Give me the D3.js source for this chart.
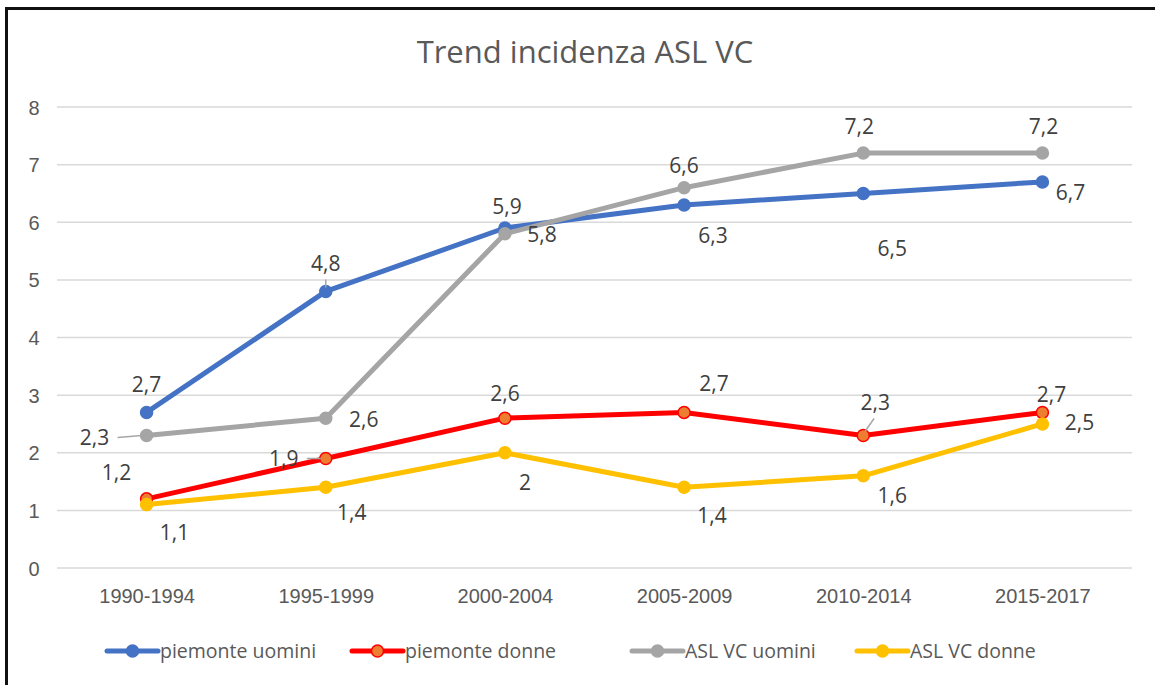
<!DOCTYPE html>
<html>
<head>
<meta charset="utf-8">
<script src="https://cdn.jsdelivr.net/npm/d3@7"></script>
<style>
  body { margin: 0; background: #fff; }
  svg { display: block; font-family: "Open Sans", "Noto Sans", sans-serif; }
  .axis text { fill: #595959; font-size: 20px; }
  .grid line { stroke: #d9d9d9; stroke-width: 1.5; }
  .lbl { fill: #404040; font-size: 21px; }
</style>
</head>
<body>
<div id="chart"></div>
<script>
// categories and values
const periods = ["1990-1994", "1995-1999", "2000-2004", "2005-2009", "2010-2014", "2015-2017"];
const piemonteUomini = [2.7, 4.8, 5.9, 6.3, 6.5, 6.7];
const piemonteDonne  = [1.2, 1.9, 2.6, 2.7, 2.3, 2.7];
const aslUomini      = [2.3, 2.6, 5.8, 6.6, 7.2, 7.2];
const aslDonne       = [1.1, 1.4, 2.0, 1.4, 1.6, 2.5];
const yTicks = [0, 1, 2, 3, 4, 5, 6, 7, 8];

// label placement: [dx, dy] from the point, optional leader
const placeUomini = [[0, -28], [0, -28, true], [2, -21], [29, 31], [29, 55], [28, 11]];
const placeDonne  = [[-30, -26], [-42, 0, true], [0, -25], [30, -29], [12, -33, true], [9, -18]];
const placeAslU   = [[-52, 2, true], [38, 1], [37, 1], [0, -22], [-4, -26], [1, -26]];
const placeAslD   = [[28, 28], [26, 25], [20, 30], [28, 28], [29, 20], [37, -1]];

const series = [
  { name: "piemonte uomini", values: piemonteUomini, color: "#4472C4", fill: "#4472C4", place: placeUomini },
  { name: "piemonte donne",  values: piemonteDonne,  color: "#FF0000", fill: "#ED7D31", place: placeDonne },
  { name: "ASL VC uomini",   values: aslUomini,      color: "#A5A5A5", fill: "#A5A5A5", place: placeAslU },
  { name: "ASL VC donne",    values: aslDonne,       color: "#FFC000", fill: "#FFC000", place: placeAslD }
];

const W = 1155, H = 685;
const margin = { top: 107, right: 23, bottom: 117, left: 57 };
const width = W - margin.left - margin.right,
      height = H - margin.top - margin.bottom;

const svg = d3.select("#chart").append("svg")
    .attr("width", W)
    .attr("height", H);

// frame
svg.append("path")
    .attr("d", "M6.5," + H + "V8.5H" + W)
    .attr("fill", "none")
    .attr("stroke", "#111")
    .attr("stroke-width", 3);

svg.append("text")
    .attr("x", 585)
    .attr("y", 63)
    .attr("text-anchor", "middle")
    .style("font-size", "31px")
    .style("fill", "#595959")
    .text("Trend incidenza ASL VC");

const g = svg.append("g")
    .attr("transform", "translate(" + margin.left + "," + margin.top + ")");

const x = d3.scalePoint().domain(periods).range([0, width]).padding(0.5);
const y = d3.scaleLinear().domain([0, 8]).range([height, 0]);

// gridlines
g.append("g")
    .attr("class", "grid")
    .selectAll("line")
    .data(yTicks)
    .enter().append("line")
    .attr("x1", 0).attr("x2", width)
    .attr("y1", d => y(d)).attr("y2", d => y(d));

const yAxis = g.append("g")
    .attr("class", "axis")
    .call(d3.axisLeft(y).tickValues(yTicks).tickSize(0).tickPadding(23));
yAxis.select(".domain").remove();
yAxis.selectAll("text").attr("text-anchor", "middle").attr("dy", "0.35em");

const xAxis = g.append("g")
    .attr("class", "axis")
    .attr("transform", "translate(0," + height + ")")
    .call(d3.axisBottom(x).tickSize(0).tickPadding(21));
xAxis.select(".domain").remove();

const line = d3.line()
    .x((d, i) => x(periods[i]))
    .y(d => y(d));

const fmt = v => String(v).replace(".", ",");

const zone = g.selectAll(".line_zone")
    .data(series)
    .enter().append("g")
    .attr("class", "line_zone");

zone.append("path")
    .attr("d", d => line(d.values))
    .attr("fill", "none")
    .attr("stroke", d => d.color)
    .attr("stroke-width", 5)
    .attr("stroke-linejoin", "round");

zone.each(function(s) {
  d3.select(this).selectAll("circle")
    .data(s.values)
    .enter().append("circle")
    .attr("cx", (d, i) => x(periods[i]))
    .attr("cy", d => y(d))
    .attr("r", 6)
    .attr("fill", s.fill)
    .attr("stroke", s.color)
    .attr("stroke-width", 1.5);
});

// data labels
series.forEach(s => {
  s.values.forEach((v, i) => {
    const p = s.place[i];
    const px = x(periods[i]), py = y(v);
    if (p[2]) {
      // leader line from label toward the point
      const lx = px + p[0], ly = py + p[1];
      let x1, y1, x2, y2;
      if (Math.abs(p[0]) > Math.abs(p[1])) {
        x1 = lx + (p[0] < 0 ? 23 : -23); y1 = ly;
        x2 = px + (p[0] < 0 ? -5 : 5); y2 = py;
      } else {
        x1 = px + p[0] * 0.9; y1 = ly + 16;
        x2 = px + p[0] * 0.15; y2 = py - 4;
      }
      g.append("line")
        .attr("x1", x1).attr("y1", y1).attr("x2", x2).attr("y2", y2)
        .attr("stroke", "#a6a6a6").attr("stroke-width", 1.5);
    }
    g.append("text")
      .attr("class", "lbl")
      .attr("x", px + p[0])
      .attr("y", py + p[1])
      .attr("dy", "0.35em")
      .attr("text-anchor", "middle")
      .text(fmt(v));
  });
});

// legend
const legendX = [107, 352, 632, 857];
const leg = svg.append("g")
    .attr("transform", "translate(0,651)");
const item = leg.selectAll("g")
    .data(series)
    .enter().append("g")
    .attr("transform", (d, i) => "translate(" + legendX[i] + ",0)");
item.append("line")
    .attr("x1", 0).attr("x2", 51)
    .attr("stroke", d => d.color)
    .attr("stroke-width", 5)
    .attr("stroke-linecap", "round");
item.append("circle")
    .attr("cx", 25.5).attr("r", 6)
    .attr("fill", d => d.fill)
    .attr("stroke", d => d.color)
    .attr("stroke-width", 1.5);
item.append("text")
    .attr("x", 53)
    .attr("dy", "0.35em")
    .style("font-size", "19.5px")
    .style("fill", "#595959")
    .text(d => d.name);
</script>
</body>
</html>
